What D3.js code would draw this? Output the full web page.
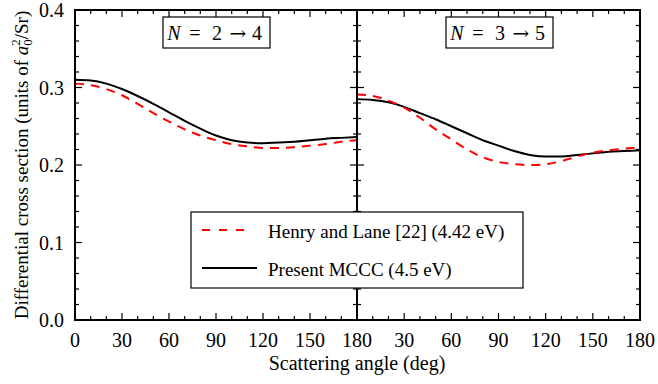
<!DOCTYPE html>
<html>
<head>
<meta charset="utf-8">
<script src="https://cdn.jsdelivr.net/npm/d3@7"></script>
<style>
  html, body { margin: 0; padding: 0; background: #fff; }
  svg { display: block; }
  text { font-family: "Liberation Serif", "Times New Roman", serif; }
  text.arrow { font-family: "DejaVu Serif", serif; }
</style>
</head>
<body>
<svg id="chart" width="658" height="384"></svg>
<script>
// Scattering angles (deg) at which the cross sections are tabulated
const angles = [0, 10, 20, 30, 40, 50, 60, 70, 80, 90, 100, 110, 120, 130, 140, 150, 160, 170, 180];

// N = 2 -> 4
const henryLane24 = [0.305, 0.303, 0.298, 0.290, 0.279, 0.267, 0.256, 0.246, 0.238, 0.232, 0.227, 0.224, 0.222, 0.222, 0.223, 0.225, 0.227, 0.230, 0.232];
const mccc24      = [0.310, 0.309, 0.305, 0.298, 0.289, 0.279, 0.268, 0.257, 0.247, 0.238, 0.232, 0.229, 0.228, 0.229, 0.230, 0.232, 0.234, 0.235, 0.236];

// N = 3 -> 5
const henryLane35 = [0.291, 0.289, 0.283, 0.274, 0.261, 0.246, 0.233, 0.220, 0.210, 0.204, 0.201, 0.200, 0.201, 0.205, 0.211, 0.216, 0.219, 0.221, 0.223];
const mccc35      = [0.285, 0.284, 0.281, 0.275, 0.267, 0.259, 0.250, 0.241, 0.232, 0.225, 0.218, 0.213, 0.211, 0.211, 0.213, 0.215, 0.217, 0.218, 0.219];

const xTicks = [0, 30, 60, 90, 120, 150, 180];
const yTicks = [0.0, 0.1, 0.2, 0.3, 0.4];
const panelLabels = [["2", "4"], ["3", "5"]];
const legendLabels = ["Henry and Lane [22] (4.42 eV)", "Present MCCC (4.5 eV)"];

const svg = d3.select("#chart");
const plotTop = 10, plotBottom = 320;
const panelX = [[75, 357], [357, 640]];

const y = d3.scaleLinear().domain([0, 0.4]).range([plotBottom, plotTop]);
const yMinor = d3.range(0, 0.4001, 0.02);
const xMinor = d3.range(0, 180.001, 10);

const panels = [
  { x: d3.scaleLinear().domain([0, 180]).range(panelX[0]), red: henryLane24, black: mccc24 },
  { x: d3.scaleLinear().domain([0, 180]).range(panelX[1]), red: henryLane35, black: mccc35 }
];

const MAJ = 7, MIN = 4;
const tickG = svg.append("g").attr("stroke", "#000").attr("stroke-width", 1.2);

panels.forEach((p, i) => {
  const x = p.x;
  const [x0, x1] = x.range();
  // bottom & top ticks, pointing into the panel
  xMinor.forEach(d => {
    const len = d % 30 === 0 ? MAJ : MIN;
    tickG.append("line").attr("x1", x(d)).attr("x2", x(d)).attr("y1", plotBottom).attr("y2", plotBottom - len);
    tickG.append("line").attr("x1", x(d)).attr("x2", x(d)).attr("y1", plotTop).attr("y2", plotTop + len);
  });
  // left & right ticks, pointing into the panel
  yMinor.forEach(v => {
    const isMaj = Math.abs(Math.round(v * 10) - v * 10) < 1e-6;
    const len = isMaj ? MAJ : MIN;
    tickG.append("line").attr("x1", x0).attr("x2", x0 + len).attr("y1", y(v)).attr("y2", y(v));
    tickG.append("line").attr("x1", x1).attr("x2", x1 - len).attr("y1", y(v)).attr("y2", y(v));
  });

  // x tick labels (the shared 180/0 boundary is labelled once)
  svg.append("g").selectAll("text")
    .data(i === 0 ? xTicks : xTicks.slice(1))
    .join("text")
    .attr("x", d => x(d))
    .attr("y", 347)
    .attr("text-anchor", "middle")
    .attr("font-size", 20)
    .text(d => d);

  // curves
  const line = arr => d3.line()
    .x((d, k) => x(angles[k]))
    .y(d => y(d))
    .curve(d3.curveMonotoneX)(arr);

  svg.append("path").attr("d", line(p.black))
    .attr("fill", "none").attr("stroke", "#000").attr("stroke-width", 2);
  svg.append("path").attr("d", line(p.red))
    .attr("fill", "none").attr("stroke", "#ff0000").attr("stroke-width", 2)
    .attr("stroke-dasharray", "9,7");

  // panel frame
  svg.append("rect")
    .attr("x", x0).attr("y", plotTop).attr("width", x1 - x0).attr("height", plotBottom - plotTop)
    .attr("fill", "none").attr("stroke", "#000").attr("stroke-width", 2);

  // transition label box
  const labX = i === 0 ? 163 : 446;
  const lg = svg.append("g");
  lg.append("rect").attr("x", labX).attr("y", 17).attr("width", 107).attr("height", 31)
    .attr("fill", "#fff").attr("stroke", "#000").attr("stroke-width", 1.2);
  const parts = [
    { s: "N", dx: 11, italic: true },
    { s: "=", dx: 32 },
    { s: panelLabels[i][0], dx: 54 },
    { s: "\u2192", dx: 75, cls: "arrow" },
    { s: panelLabels[i][1], dx: 94 }
  ];
  lg.selectAll("text").data(parts).join("text")
    .attr("class", d => d.cls || null)
    .attr("x", d => labX + d.dx).attr("y", 40)
    .attr("text-anchor", "middle").attr("font-size", 20)
    .attr("font-style", d => d.italic ? "italic" : null)
    .text(d => d.s);
});

// y tick labels
svg.append("g").selectAll("text")
  .data(yTicks)
  .join("text")
  .attr("x", 64)
  .attr("y", d => y(d) + 7)
  .attr("text-anchor", "end")
  .attr("font-size", 20)
  .text(d => d.toFixed(1));

// axis titles
svg.append("text")
  .attr("x", 357).attr("y", 370)
  .attr("text-anchor", "middle").attr("font-size", 20)
  .text("Scattering angle (deg)");

const yl = svg.append("text")
  .attr("transform", `translate(28,${(plotTop + plotBottom) / 2}) rotate(-90)`)
  .attr("text-anchor", "middle").attr("font-size", 19);
yl.append("tspan").text("Differential cross section (units of ");
yl.append("tspan").attr("font-style", "italic").text("a");
yl.append("tspan").attr("font-size", 13).attr("dy", 4).text("0");
yl.append("tspan").attr("font-size", 13).attr("dx", -6.5).attr("dy", -12).text("2");
yl.append("tspan").attr("dy", 8).text("/Sr)");

// legend
const leg = svg.append("g");
leg.append("rect").attr("x", 191).attr("y", 212).attr("width", 332).attr("height", 76)
  .attr("fill", "#fff").attr("stroke", "#000").attr("stroke-width", 1.2);
leg.append("line").attr("x1", 202).attr("x2", 252).attr("y1", 230).attr("y2", 230)
  .attr("stroke", "#ff0000").attr("stroke-width", 2).attr("stroke-dasharray", "8,9");
leg.append("line").attr("x1", 202).attr("x2", 257).attr("y1", 268).attr("y2", 268)
  .attr("stroke", "#000").attr("stroke-width", 2);
leg.selectAll("text.lab").data(legendLabels).join("text")
  .attr("class", "lab")
  .attr("x", 268).attr("y", (d, k) => 238 + k * 38)
  .attr("font-size", 19)
  .text(d => d);
</script>
</body>
</html>
